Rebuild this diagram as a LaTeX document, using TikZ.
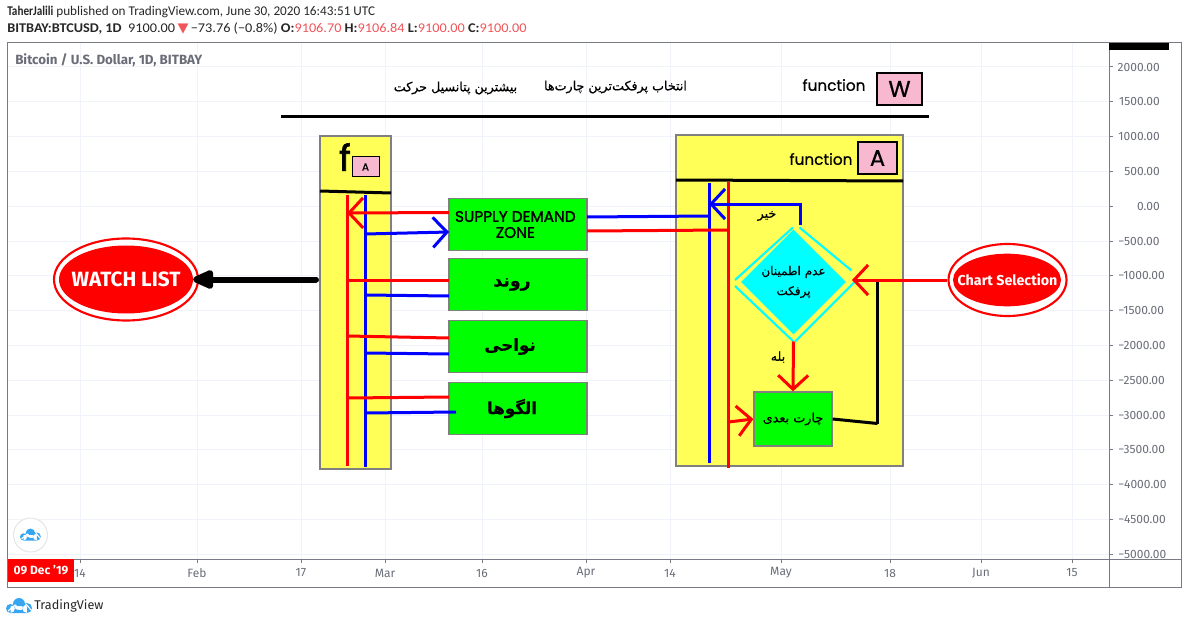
\documentclass[tikz,border=0pt]{standalone}
\usepackage{fontspec}
\usetikzlibrary{arrows.meta,shapes.geometric}
\setmainfont{Fira Sans}
\newfontfamily\farsi[Script=Arabic,FakeBold=0.5]{DejaVu Sans}
\newfontfamily\funcfont[FakeBold=0.8]{Poppins}
\newfontfamily\funcbold[FakeBold=1.6]{Poppins}
\newfontfamily\headfont{Carlito}
\newfontfamily\symfont{DejaVu Sans}
\TeXXeTstate=1
\newcommand{\fa}[1]{{\farsi\beginR #1\endR}}
\definecolor{gridcol}{HTML}{F0F3FA}
\definecolor{axiscol}{HTML}{787B86}
\definecolor{labelcol}{HTML}{6A6D78}
\definecolor{yellowbox}{HTML}{FFFF57}
\definecolor{pinkbox}{HTML}{F8B8D0}
\definecolor{priceup}{HTML}{F0555A}
\definecolor{tvblue}{HTML}{36A6F2}
\definecolor{cyanbox}{HTML}{00FFFF}
\tikzset{
  barb/.tip={Straight Barb[length=10.5pt,width=22.5pt]},
  panel/.style={draw=gray,line width=1pt,fill=yellowbox,inner sep=0pt},
  greenbox/.style={draw=gray,line width=1pt,fill=green,inner sep=0pt,minimum width=103.5pt,minimum height=38.6pt,align=center},
  pinkkey/.style={draw=black,line width=1.5pt,fill=pinkbox,inner sep=0pt},
  redline/.style={draw=red,line width=2.25pt},
  blueline/.style={draw=blue,line width=2.25pt},
  blackline/.style={draw=black,line width=2.25pt},
  cyanline/.style={draw=cyanbox,line width=1.6pt},
  ringout/.style={ellipse,draw=red,line width=1.6pt,fill=white,inner sep=0pt},
  ringin/.style={ellipse,fill=red,inner sep=0pt},
  axislabel/.style={text=labelcol,font=\fontsize{9}{11}\selectfont,inner sep=0pt},
  pics/tvcloud/.style={code={
    \fill[tvblue] (4.5,10.5) circle (4.5) (13,6) circle (6) (21,10) circle (5) (4.5,8) rectangle (21,15);
    \draw[white,line width=0.8pt] (2,13) -- (9,7) -- (15,11.5) -- (20.5,6.5) -- (25,12);
  }}
}
\begin{document}
\begin{tikzpicture}[x=0.75pt,y=-0.75pt]
	\useasboundingbox (0,0) rectangle (1188,624);

	% chart grid
	\foreach \xx in {80,197,301,385,482,586,670,781,890,981,1072}
	  \draw[gridcol,line width=0.75pt] (\xx,43) -- (\xx,559);
	\foreach \n in {0,...,14}
	  \draw[gridcol,line width=0.75pt] (7,67+\n*34.8) -- (1109,67+\n*34.8);

	% axes
	\draw[axiscol,line width=0.75pt] (7,43) rectangle (1181,587);
	\draw[axiscol,line width=0.75pt] (1109,43) -- (1109,587);
	\draw[axiscol,line width=0.75pt] (7,559) -- (1181,559);
	\foreach \n in {0,...,14}
	  \draw[axiscol,line width=0.75pt] (1109,67+\n*34.8) -- (1113,67+\n*34.8);
	\foreach \lab [count=\n from 0] in {2000.00,1500.00,1000.00,500.00,0.00}
	  \node[axislabel,anchor=east] (price\n) at (1160,67+\n*34.8) {\lab};
	\foreach \lab [count=\n from 5] in {−500.00,−1000.00,−1500.00,−2000.00,−2500.00,−3000.00,−3500.00,−4000.00,−4500.00,−5000.00}
	  \node[axislabel,anchor=west] (price\n) at (1118,67+\n*34.8) {\lab};
	\foreach \xx/\lab [count=\n] in {80/14,197/Feb,301/17,385/Mar,482/16,586/Apr,670/14,781/May,890/18,981/Jun,1072/15}{
	  \draw[axiscol,line width=0.75pt] (\xx,559) -- (\xx,563);
	  \node[axislabel] (date\n) at (\xx,573) {\lab};
	}
	\fill[black] (1109,43) rectangle (1169,50);
	\node[fill=red,text=white,inner sep=0pt,minimum width=49.5pt,minimum height=17pt,font=\fontsize{9}{11}\selectfont\bfseries] (datebox) at (41,570.5) {09 Dec '19};

	% header
	\node[anchor=west,inner sep=0pt,text=black!85,font=\fontsize{10}{12}\selectfont\headfont] (head1) at (7,12) {\scalebox{0.84}[1]{\textbf{TaherJalili}} \scalebox{0.99}[1]{published on TradingView.com, June 30, 2020 16:43:51 UTC}};
	\node[anchor=west,inner sep=0pt,text=black!85,font=\fontsize{10}{12}\selectfont\headfont] (head2) at (7,29) {\scalebox{1.07}[1]{\textbf{BITBAY:BTCUSD, 1D}\ \ 9100.00\,{\symfont\textcolor{priceup}{▼}}\,−73.76 (−0.8\%) \textbf{O:}\textcolor{priceup}{9106.70} \textbf{H:}\textcolor{priceup}{9106.84} \textbf{L:}\textcolor{priceup}{9100.00} \textbf{C:}\textcolor{priceup}{9100.00}}};
	\node[anchor=west,inner sep=0pt,text=labelcol,font=\fontsize{10}{12}\selectfont\bfseries] (title) at (15,60) {Bitcoin / U.S. Dollar, 1D, BITBAY};

	% logos
	\draw[black!10,fill=white,line width=0.75pt] (30.5,535) circle (17);
	\pic[scale=0.8] at (20,528.5) {tvcloud};
	\pic at (6,598) {tvcloud};
	\node[anchor=west,inner sep=0pt,text=black!85,font=\fontsize{9.5}{11}\selectfont] (tvname) at (34,605.5) {TradingView};

	% top row
	\node[font=\fontsize{9.5}{11}\selectfont] (toptext1) at (615.5,87) {\fa{انتخاب پرفکت‌ترین چارت‌ها}};
	\node[font=\fontsize{9.5}{11}\selectfont] (toptext2) at (455.5,88) {\fa{بیشترین پتانسیل حرکت}};
	\node[font=\fontsize{11.5}{13}\selectfont\funcfont] (funcw) at (834,85) {function};
	\node[pinkkey,minimum width=33.75pt,minimum height=24pt,font=\fontsize{17}{19}\selectfont\funcfont] (keyw) at (899.5,89) {W};
	\coordinate (ruleL) at (281,116.5);
	\coordinate (ruleR) at (929,116.5);
	\draw[blackline] (ruleL) -- (ruleR);

	% left panel
	\node[panel,minimum width=53.25pt,minimum height=249.75pt] (fpanel) at (355.5,302.5) {};
	\node[font=\fontsize{27}{29}\selectfont\funcbold] (fmark) at (345,157) {f};
	\node[draw=black,line width=0.75pt,fill=pinkbox,inner sep=0pt,minimum width=20.25pt,minimum height=15pt,font=\fontsize{8}{9}\selectfont\funcfont] (keya) at (365.5,167) {A};
	\coordinate (flineL) at (320,191);
	\coordinate (flineR) at (391,193);
	\draw[blackline] (flineL) -- (flineR);

	% right panel
	\node[panel,minimum width=170.25pt,minimum height=248.25pt] (apanel) at (789.5,300.5) {};
	\node[font=\fontsize{11.5}{13}\selectfont\funcfont] (funca) at (821,159) {function};
	\node[pinkkey,minimum width=29.25pt,minimum height=24pt,font=\fontsize{17}{19}\selectfont\funcfont] (keyaa) at (877.5,158) {A};
	\coordinate (alineL) at (676,180);
	\coordinate (alineR) at (903,181);
	\draw[blackline] (alineL) -- (alineR);

	% green boxes
	\node[greenbox,font=\fontsize{11.5}{12}\selectfont\funcbold] (supply) at (518,224.5) {\hspace*{-4pt}SUPPLY DEMAND\\\hspace*{-4pt}ZONE};
	\node[greenbox,font=\fontsize{13}{16}\selectfont\bfseries] (ravand) at (518,284.5) {\fa{روند}\hspace{9pt}};
	\node[greenbox,font=\fontsize{12.5}{16}\selectfont\bfseries] (navahi) at (518,346.5) {\fa{نواحی}\hspace{12pt}};
	\node[greenbox,font=\fontsize{12.5}{16}\selectfont\bfseries] (olgu) at (518,408.5) {\fa{الگوها}\hspace{9pt}};

	% left buses
	\coordinate (fredT) at (347,195);
	\coordinate (fredB) at (347,466);
	\coordinate (fblueT) at (365.5,195);
	\coordinate (fblueB) at (365.5,467);
	\draw[redline] (fredT) -- (fredB);
	\draw[blueline] (fblueT) -- (fblueB);

	\coordinate (r1a) at (449,212.5);
	\coordinate (r1b) at (347,213);
	\coordinate (b1a) at (365.5,234);
	\coordinate (b1b) at (449,232);
	\coordinate (r2a) at (347,280);
	\coordinate (r2b) at (449,280);
	\coordinate (b2a) at (365.5,295);
	\coordinate (b2b) at (449,296);
	\coordinate (r3a) at (347,336);
	\coordinate (r3b) at (449,338);
	\coordinate (b3a) at (365.5,353);
	\coordinate (b3b) at (449,354);
	\coordinate (r4a) at (347,398);
	\coordinate (r4b) at (449,397);
	\coordinate (b4a) at (365.5,413);
	\coordinate (b4b) at (456,412);
	\draw[redline,-{barb}] (r1a) -- (r1b);
	\draw[blueline,-{barb}] (b1a) -- (b1b);
	\draw[redline] (r2a) -- (r2b);
	\draw[blueline] (b2a) -- (b2b);
	\draw[redline] (r3a) -- (r3b);
	\draw[blueline] (b3a) -- (b3b);
	\draw[redline] (r4a) -- (r4b);
	\draw[blueline] (b4a) -- (b4b);

	% right buses
	\coordinate (ablueT) at (709,183);
	\coordinate (ablueB) at (709,463);
	\coordinate (aredT) at (728.5,182);
	\coordinate (aredB) at (728.5,468);
	\draw[blueline] (ablueT) -- (ablueB);
	\draw[redline] (aredT) -- (aredB);
	\coordinate (s1a) at (587,217);
	\coordinate (s1b) at (709,216);
	\coordinate (s2a) at (587,231);
	\coordinate (s2b) at (728.5,230);
	\draw[blueline] (s1a) -- (s1b);
	\draw[redline] (s2a) -- (s2b);

	% decision
	\node[diamond,fill=cyanbox,aspect=1,inner sep=0pt,minimum width=78.75pt,minimum height=78.75pt,align=center,font=\fontsize{9}{15}\selectfont] (decide) at (793.5,282) {\fa{عدم اطمینان}\\\fa{پرفکت}};
	\coordinate (dTop) at (793,227.5);
	\coordinate (dTopR) at (799.5,227.5);
	\coordinate (dRgtU) at (851.5,270.5);
	\coordinate (dRgtD) at (856.5,280);
	\coordinate (dBotR) at (795,341.5);
	\coordinate (dBot) at (793.5,341.5);
	\coordinate (dLftD) at (735,286);
	\coordinate (dLftU) at (735,280);
	\draw[cyanline] (dTopR) -- (dRgtU);
	\draw[cyanline] (dTop) -- (dLftU);
	\draw[cyanline] (dLftD) -- (dBot);
	\draw[cyanline] (dBotR) -- (dRgtD);

	\node[font=\fontsize{9.5}{11}\selectfont] (nolabel) at (767,216) {\fa{خیر}};
	\node[font=\fontsize{9.5}{11}\selectfont] (yeslabel) at (778,357) {\fa{بله}};

	\coordinate (noA) at (800,225);
	\coordinate (noB) at (800,204);
	\coordinate (noC) at (709,204);
	\draw[blueline,-{barb}] (noA) -- (noB) -- (noC);

	\node[draw=gray,line width=1pt,fill=green,inner sep=0pt,minimum width=58.5pt,minimum height=40.5pt,font=\fontsize{9.6}{11}\selectfont] (nextchart) at (793,419) {\fa{چارت بعدی}};
	\draw[redline,-{barb}] (dBot) -- (nextchart.north);
	\coordinate (nextA) at (728.5,422);
	\draw[redline,-{barb}] (nextA) -- (nextchart.west);

	\coordinate (backA) at (877.5,423.5);
	\coordinate (backB) at (877.5,280);
	\draw[blackline] (nextchart.east) -- (backA);
	\draw[blackline] (backA) -- (backB);

	% chart selection
	\node[ringout,minimum width=88.5pt,minimum height=54pt] (selout) at (1007.5,280) {};
	\node[ringin,minimum width=81pt,minimum height=39.5pt] (selin) at (1007,280) {};
	\node[text=white,inner sep=0pt,font=\fontsize{10.7}{12}\selectfont\bfseries] (seltext) at (1007.5,280) {Chart Selection};
	\coordinate (selTip) at (852,280);
	\draw[redline,-{barb}] (selout.west) -- (selTip);

	% watch list
	\node[ringout,minimum width=108pt,minimum height=61.5pt] (watchout) at (126,279.5) {};
	\node[ringin,minimum width=100.5pt,minimum height=51pt] (watchin) at (126,279.5) {};
	\node[text=white,inner sep=0pt,font=\fontsize{15.5}{17}\selectfont\bfseries] (watchtext) at (126,279.5) {WATCH LIST};
	\coordinate (watchA) at (316,279.5);
	\coordinate (watchB) at (193,279.5);
	\draw[black,line width=4.5pt,line cap=round,-{Triangle[length=19pt,width=15pt,round]}] (watchA) -- (watchB);
\end{tikzpicture}
\end{document}
